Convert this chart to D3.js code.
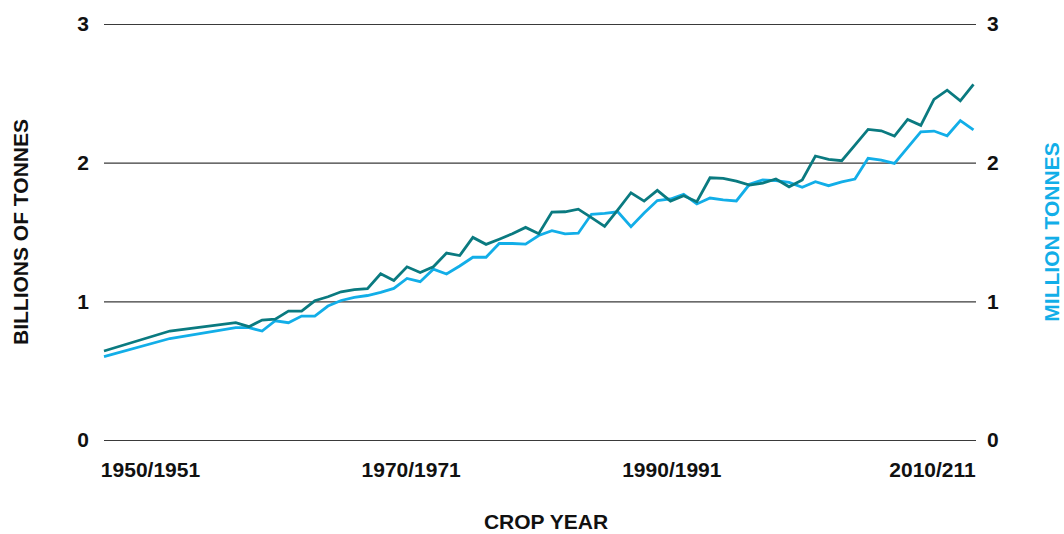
<!DOCTYPE html>
<html><head><meta charset="utf-8">
<script src="https://cdn.jsdelivr.net/npm/d3@7"></script>
<style>
html,body{margin:0;padding:0;background:#fff;}
svg{display:block;font-family:"Liberation Sans",Arial,Helvetica,sans-serif;font-weight:bold;}
</style></head><body>
<svg id="chart" width="1064" height="534"></svg>
<script>
// ---- data ----
const years = [1950,1955,1960,1961,1962,1963,1964,1965,1966,1967,1968,1969,1970,1971,1972,1973,1974,1975,1976,1977,1978,1979,
  1980,1981,1982,1983,1984,1985,1986,1987,1988,1989,1990,1991,1992,1993,1994,1995,1996,1997,1998,1999,
  2000,2001,2002,2003,2004,2005,2006,2007,2008,2009,2010,2011,2012,2013,2014,2015,2016];
const seriesDark = [0.642,0.786,0.846,0.817,0.865,0.872,0.930,0.930,1.004,1.033,1.069,1.085,1.092,1.199,1.150,1.249,1.208,1.249,1.348,1.330,1.461,1.411,
  1.448,1.487,1.533,1.487,1.644,1.646,1.665,1.604,1.541,1.660,1.783,1.723,1.800,1.723,1.761,1.718,1.891,1.887,1.867,1.838,
  1.853,1.882,1.826,1.875,2.048,2.024,2.014,2.127,2.240,2.230,2.192,2.312,2.269,2.456,2.523,2.446,2.565];
const seriesBlue = [0.601,0.732,0.810,0.810,0.786,0.860,0.846,0.894,0.894,0.966,1.006,1.028,1.042,1.064,1.093,1.165,1.142,1.232,1.197,1.255,1.318,1.318,
  1.417,1.417,1.413,1.475,1.509,1.486,1.491,1.628,1.635,1.646,1.538,1.637,1.727,1.738,1.772,1.702,1.745,1.731,1.724,1.844,
  1.875,1.871,1.858,1.822,1.863,1.834,1.861,1.882,2.031,2.019,1.995,2.109,2.223,2.228,2.194,2.303,2.236];
const yTicks = [0,1,2,3];
const xTickLabels = ["1950/1951","1970/1971","1990/1991","2010/211"];
const leftTitle = "BILLIONS OF TONNES";
const rightTitle = "MILLION TONNES";
const xTitle = "CROP YEAR";

// ---- layout ----
const colDark = "#0a7a80", colBlue = "#12aee8";
const plotLeft = 104, plotRight = 973.5, gridRight = 976, plotTop = 24, plotBottom = 440;
const FS = 21;

const svg = d3.select("#chart");
const x = d3.scaleLinear().domain([years[0], years[years.length-1]]).range([plotLeft, plotRight]);
const yL = d3.scaleLinear().domain([0,3]).range([plotBottom, plotTop]);
const yR = d3.scaleLinear().domain([0,3]).range([plotBottom, plotTop]);

// left axis with gridlines
const gL = svg.append("g").attr("transform", `translate(${plotLeft},0)`)
  .call(d3.axisLeft(yL).tickValues(yTicks).tickFormat(d3.format("d"))
    .tickSize(-(gridRight - plotLeft)).tickPadding(15));
gL.select(".domain").remove();
gL.selectAll(".tick line").attr("stroke", "#3a3a3a").attr("stroke-width", 1.1);
gL.selectAll(".tick text").attr("font-size", FS).attr("font-weight", "bold")
  .attr("fill", "#111").attr("font-family", "Liberation Sans, Arial, sans-serif");

// right axis labels
const gR = svg.append("g").attr("transform", `translate(${gridRight},0)`)
  .call(d3.axisRight(yR).tickValues(yTicks).tickFormat(d3.format("d")).tickSize(0).tickPadding(11));
gR.select(".domain").remove();
gR.selectAll(".tick text").attr("font-size", FS).attr("font-weight", "bold")
  .attr("fill", "#111").attr("font-family", "Liberation Sans, Arial, sans-serif");

// bottom category labels
const xl = d3.scalePoint().domain(xTickLabels).range([150, 932]);
const gB = svg.append("g").attr("transform", `translate(0,${plotBottom})`)
  .call(d3.axisBottom(xl).tickSize(0).tickPadding(22));
gB.select(".domain").remove();
gB.selectAll(".tick text").attr("font-size", FS).attr("font-weight", "bold")
  .attr("fill", "#111").attr("font-family", "Liberation Sans, Arial, sans-serif");

// lines
const lineL = d3.line().x((d,i) => x(years[i])).y(d => yL(d));
const lineR = d3.line().x((d,i) => x(years[i])).y(d => yR(d));
svg.append("path").datum(seriesBlue).attr("d", lineR)
  .attr("fill","none").attr("stroke", colBlue).attr("stroke-width", 2.8).attr("stroke-linejoin","miter");
svg.append("path").datum(seriesDark).attr("d", lineL)
  .attr("fill","none").attr("stroke", colDark).attr("stroke-width", 2.8).attr("stroke-linejoin","miter");

// titles
svg.append("text").attr("transform", `translate(21,${(plotTop+plotBottom)/2}) rotate(-90)`)
  .attr("text-anchor","middle").attr("dy","0.35em").attr("font-size", FS).attr("fill","#111").text(leftTitle);
svg.append("text").attr("transform", `translate(1052,${(plotTop+plotBottom)/2}) rotate(-90)`)
  .attr("text-anchor","middle").attr("dy","0.35em").attr("font-size", FS).attr("fill", colBlue).text(rightTitle);
svg.append("text").attr("x", 546).attr("y", 529)
  .attr("text-anchor","middle").attr("font-size", FS).attr("fill","#111").text(xTitle);
</script>
</body></html>
